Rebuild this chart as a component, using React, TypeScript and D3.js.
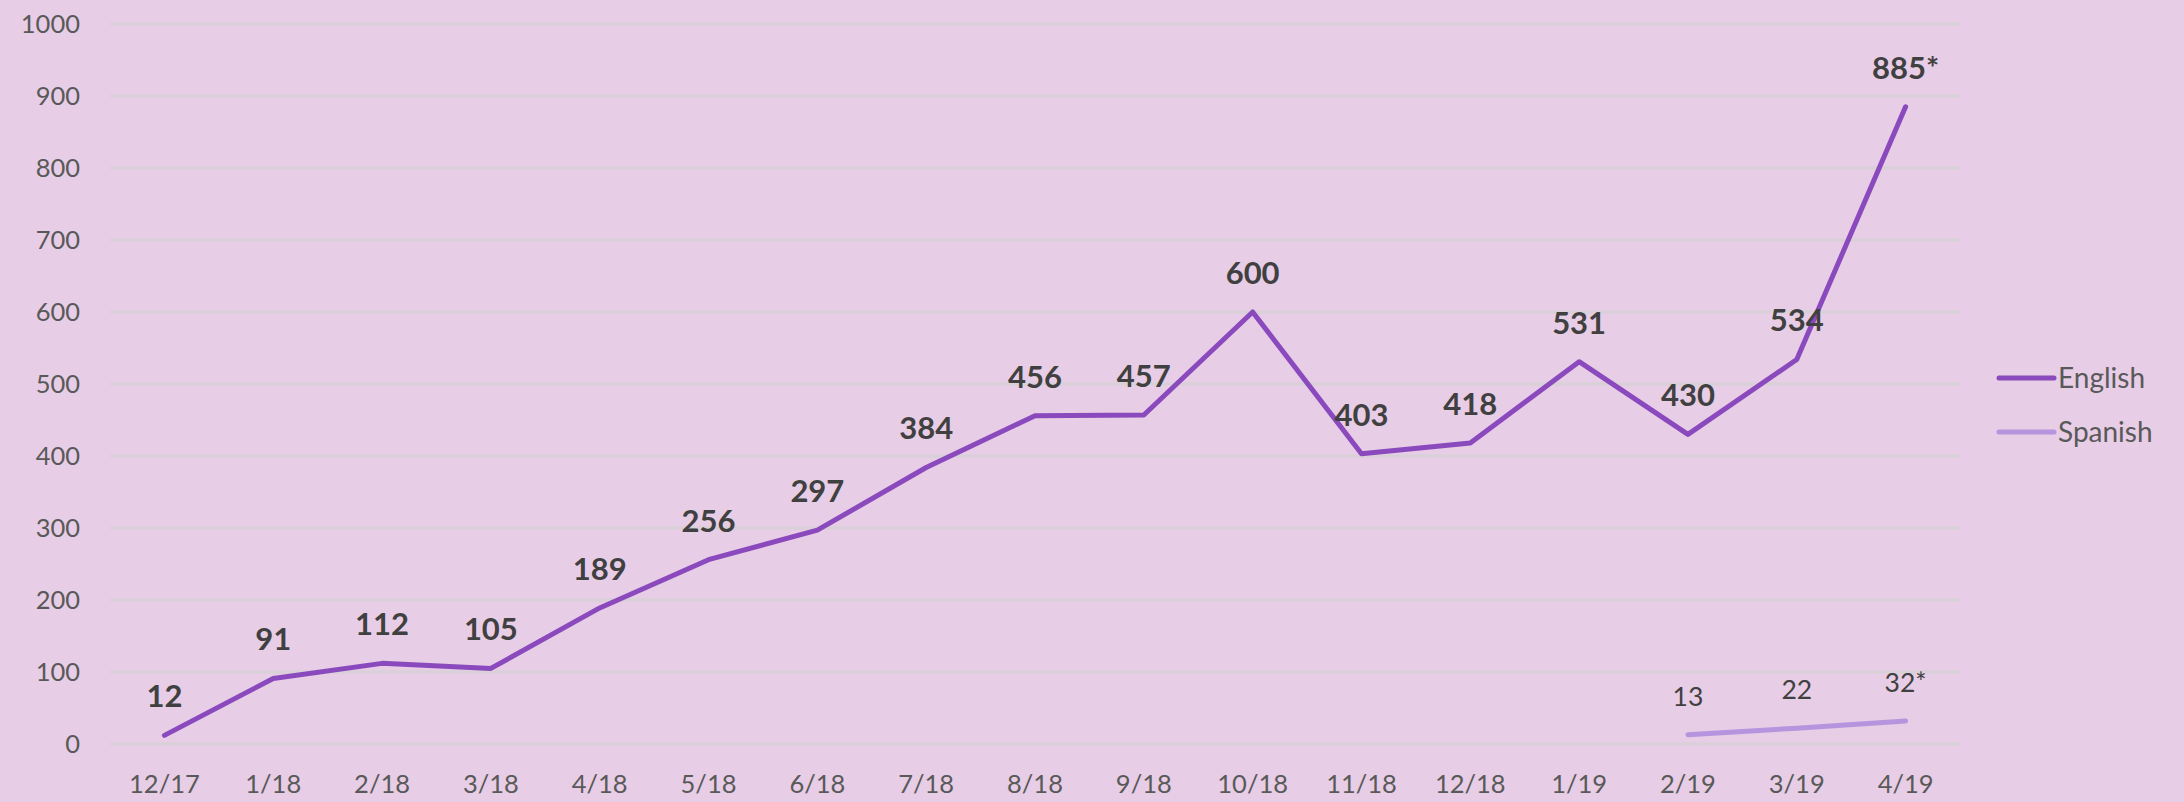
import React from "react";
import * as d3 from "d3";

const categories = ["12/17","1/18","2/18","3/18","4/18","5/18","6/18","7/18","8/18","9/18","10/18","11/18","12/18","1/19","2/19","3/19","4/19"];
const english: (number | null)[] = [12,91,112,105,189,256,297,384,456,457,600,403,418,531,430,534,885];
const spanish: (number | null)[] = [null,null,null,null,null,null,null,null,null,null,null,null,null,null,13,22,32];
const englishLabels = ["12","91","112","105","189","256","297","384","456","457","600","403","418","531","430","534","885*"];
const spanishLabels = ["","","","","","","","","","","","","","","13","22","32*"];
const yTicks = [0,100,200,300,400,500,600,700,800,900,1000];
const seriesNames = ["English", "Spanish"];

const W = 2184, H = 802;
const BG = "#E7CDE5";
const C_EN = "#8A4ABE";
const C_ES = "#B795DE";
const FONT = "Lato, 'Open Sans', sans-serif";

export default function App() {
  const x = d3.scalePoint<string>().domain(categories).range([110, 1960]).padding(0.5);
  const y = d3.scaleLinear().domain([0, 1000]).range([744, 24]);
  const line = d3.line<number | null>()
    .defined(d => d !== null)
    .x((_, i) => x(categories[i]) as number)
    .y(d => y(d as number));

  return (
    <svg width={W} height={H} style={{ position: "absolute", left: 0, top: 0 }}>
      <rect width={W} height={H} fill={BG} />
      {yTicks.map(t => (
        <g key={t}>
          <line x1={110} x2={1960} y1={y(t)} y2={y(t)} stroke="#D8D2D8" strokeWidth={3} />
          <text x={80} y={y(t)} dy="0.35em" textAnchor="end" fontFamily={FONT} fontSize={25.5} fill="#595959">{t}</text>
        </g>
      ))}
      {categories.map(c => (
        <text key={c} x={x(c)} y={784} dy="0.35em" textAnchor="middle" fontFamily={FONT} fontSize={25.5} fill="#595959">{c}</text>
      ))}
      <path d={line(english) || ""} fill="none" stroke={C_EN} strokeWidth={5} strokeLinecap="round" strokeLinejoin="round" />
      <path d={line(spanish) || ""} fill="none" stroke={C_ES} strokeWidth={5} strokeLinecap="round" strokeLinejoin="round" />
      {english.map((v, i) => v === null ? null : (
        <text key={"e" + i} x={x(categories[i])} y={y(v) - 39} dy="0.35em" textAnchor="middle" fontFamily={FONT} fontWeight={700} fontSize={31} fill="#404040">{englishLabels[i]}</text>
      ))}
      {spanish.map((v, i) => v === null ? null : (
        <text key={"s" + i} x={x(categories[i])} y={y(v) - 38} dy="0.35em" textAnchor="middle" fontFamily={FONT} fontSize={26.5} fill="#404040">{spanishLabels[i]}</text>
      ))}
      {seriesNames.map((n, i) => (
        <g key={n} transform={`translate(0, ${378 + i * 54})`}>
          <line x1={1999} x2={2054} y1={0} y2={0} stroke={i === 0 ? C_EN : C_ES} strokeWidth={5} strokeLinecap="round" />
          <text x={2058} y={0} dy="0.35em" fontFamily={FONT} fontSize={28} fill="#595959">{n}</text>
        </g>
      ))}
    </svg>
  );
}
